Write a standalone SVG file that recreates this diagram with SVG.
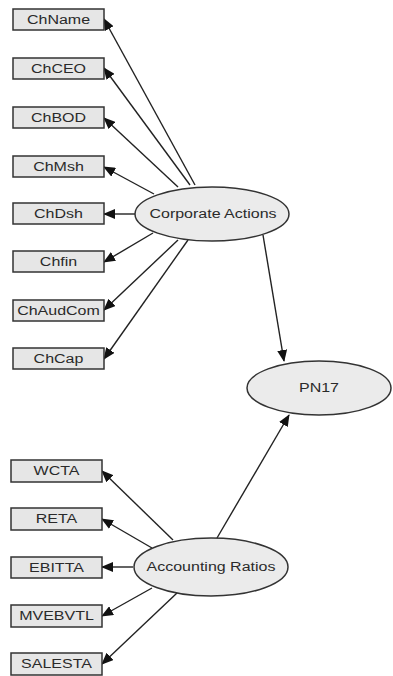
<svg xmlns="http://www.w3.org/2000/svg" width="393" height="676" viewBox="0 0 393 676">
<defs>
<marker id="ah" markerUnits="userSpaceOnUse" markerWidth="12" markerHeight="10" refX="11" refY="5" orient="auto">
<path d="M0,0 L12,5 L0,10 Z" fill="#111"/>
</marker>
<style>
.box{fill:#e6e6e6;stroke:#333;stroke-width:1.5}
.ell{fill:#ebebeb;stroke:#333;stroke-width:1.5}
.t{font-family:"Liberation Sans",Arial,sans-serif;font-size:12.5px;fill:#2a2a2a;text-anchor:middle;dominant-baseline:central}
.c{stroke:#222;stroke-width:1.4;fill:none;marker-end:url(#ah)}
</style>
</defs>
<rect width="393" height="676" fill="#fff"/>
<g id="connectors">
<line class="c" x1="195" y1="185" x2="104" y2="19"/>
<line class="c" x1="190" y1="185" x2="104" y2="68"/>
<line class="c" x1="178" y1="187" x2="104" y2="118"/>
<line class="c" x1="154" y1="194" x2="104" y2="167"/>
<line class="c" x1="135" y1="214" x2="104" y2="214"/>
<line class="c" x1="153" y1="233" x2="104" y2="262"/>
<line class="c" x1="178" y1="240" x2="104" y2="310"/>
<line class="c" x1="188" y1="240" x2="104" y2="359"/>
<line class="c" x1="263" y1="235" x2="284" y2="361"/>
<line class="c" x1="217" y1="538" x2="289" y2="415"/>
<line class="c" x1="173" y1="540" x2="102" y2="471"/>
<line class="c" x1="152" y1="548" x2="102" y2="519"/>
<line class="c" x1="133" y1="567" x2="102" y2="567"/>
<line class="c" x1="152" y1="588" x2="102" y2="616"/>
<line class="c" x1="177" y1="593" x2="102" y2="664"/>
</g>
<g id="ChName"><rect class="box" x="13" y="9" width="91" height="21"/><text class="t" transform="translate(58.5,19.5) scale(1.28,1)">ChName</text></g>
<g id="ChCEO"><rect class="box" x="13" y="58" width="91" height="21"/><text class="t" transform="translate(58.5,68.5) scale(1.28,1)">ChCEO</text></g>
<g id="ChBOD"><rect class="box" x="13" y="107" width="91" height="21"/><text class="t" transform="translate(58.5,117.5) scale(1.28,1)">ChBOD</text></g>
<g id="ChMsh"><rect class="box" x="13" y="156" width="91" height="21"/><text class="t" transform="translate(58.5,166.5) scale(1.28,1)">ChMsh</text></g>
<g id="ChDsh"><rect class="box" x="13" y="203" width="91" height="21"/><text class="t" transform="translate(58.5,213.5) scale(1.28,1)">ChDsh</text></g>
<g id="Chfin"><rect class="box" x="13" y="251" width="91" height="21"/><text class="t" transform="translate(58.5,261.5) scale(1.28,1)">Chfin</text></g>
<g id="ChAudCom"><rect class="box" x="13" y="300" width="91" height="21"/><text class="t" transform="translate(58.5,310.5) scale(1.28,1)">ChAudCom</text></g>
<g id="ChCap"><rect class="box" x="13" y="348" width="91" height="21"/><text class="t" transform="translate(58.5,358.5) scale(1.28,1)">ChCap</text></g>
<g id="CorporateActions"><ellipse class="ell" cx="212" cy="214" rx="77" ry="27"/><text class="t" transform="translate(213,214) scale(1.28,1)">Corporate Actions</text></g>
<g id="PN17"><ellipse class="ell" cx="319" cy="388" rx="72" ry="27"/><text class="t" transform="translate(319,388) scale(1.28,1)">PN17</text></g>
<g id="AccountingRatios"><ellipse class="ell" cx="211" cy="567" rx="77" ry="29"/><text class="t" transform="translate(211,567) scale(1.28,1)">Accounting Ratios</text></g>
<g id="WCTA"><rect class="box" x="11" y="460" width="91" height="22"/><text class="t" transform="translate(56.5,471) scale(1.28,1)">WCTA</text></g>
<g id="RETA"><rect class="box" x="11" y="508" width="91" height="22"/><text class="t" transform="translate(56.5,519) scale(1.28,1)">RETA</text></g>
<g id="EBITTA"><rect class="box" x="11" y="557" width="91" height="21"/><text class="t" transform="translate(56.5,567.5) scale(1.28,1)">EBITTA</text></g>
<g id="MVEBVTL"><rect class="box" x="11" y="605" width="91" height="22"/><text class="t" transform="translate(56.5,616) scale(1.28,1)">MVEBVTL</text></g>
<g id="SALESTA"><rect class="box" x="11" y="653" width="91" height="22"/><text class="t" transform="translate(56.5,664) scale(1.28,1)">SALESTA</text></g>
</svg>
